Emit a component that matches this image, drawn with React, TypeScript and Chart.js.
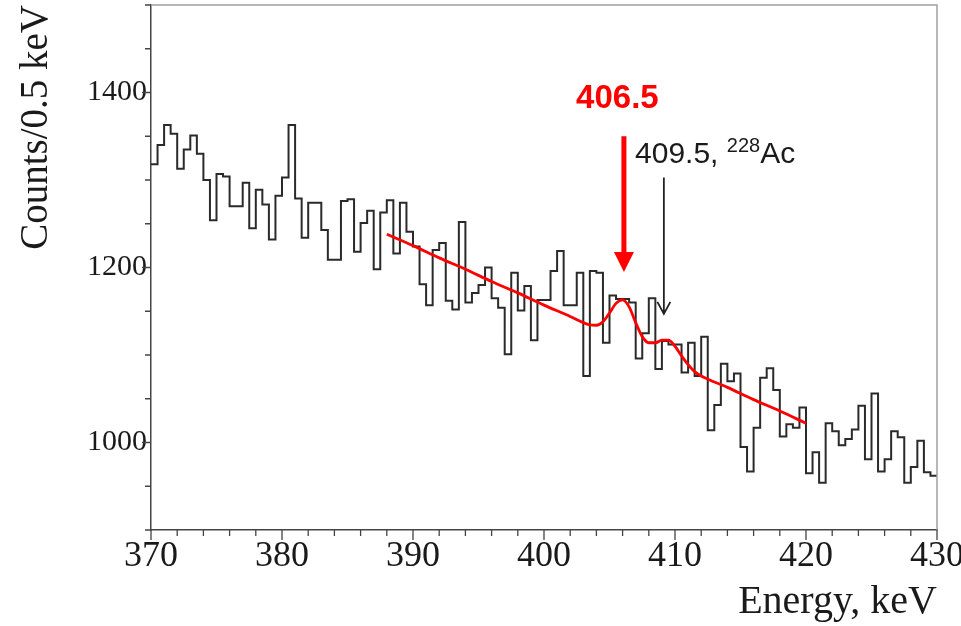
import { useEffect, useRef } from 'react';
import { Chart, registerables } from 'chart.js';

Chart.register(...registerables);

// ---- data ----
const binStart = 370; // keV, left edge of first bin
const binWidth = 0.5; // keV per bin
const counts: number[] = [
  1318, 1340, 1363, 1353, 1313, 1335, 1351, 1330, 1300, 1254,
  1307, 1304, 1270, 1270, 1297, 1245, 1289, 1272, 1232, 1282,
  1303, 1363, 1279, 1234, 1274, 1274, 1243, 1209, 1209, 1276,
  1278, 1218, 1251, 1265, 1198, 1263, 1277, 1216, 1274, 1241,
  1224, 1181, 1157, 1220, 1228, 1162, 1152, 1252, 1160, 1171,
  1180, 1200, 1165, 1154, 1101, 1194, 1151, 1179, 1117, 1163,
  1163, 1196, 1219, 1157, 1157, 1194, 1076, 1196, 1194, 1114,
  1168, 1164, 1164, 1160, 1096, 1125, 1165, 1084, 1116, 1112,
  1112, 1080, 1114, 1076, 1121, 1014, 1043, 1090, 1070, 1079,
  995, 967, 1017, 1074, 1085, 1060, 1007, 1021, 1017, 1040,
  965, 989, 954, 1022, 1013, 997, 1004, 1015, 1042, 981,
  1056, 967, 981, 1013, 1006, 954, 972, 1002, 966, 962,
];

const fitEnergy: number[] = [
  388, 390, 392, 394, 396, 398, 400, 402, 403, 403.5, 404, 404.5, 405, 405.5,
  406, 406.5, 407, 407.5, 408, 408.5, 409, 409.5, 410, 410.5, 411, 411.5, 412,
  414, 416, 418, 420,
];
const fitCounts: number[] = [
  1238, 1225, 1211, 1198, 1184, 1171, 1157, 1144, 1137, 1134.5, 1134, 1138, 1148, 1159,
  1163, 1155, 1137, 1121, 1114, 1114, 1117, 1117, 1110, 1099, 1089, 1081, 1076,
  1063, 1049, 1036, 1022,
];

const xTickLabels = [370, 380, 390, 400, 410, 420, 430];
const yTickLabels = [1000, 1200, 1400];
const xTitle = 'Energy, keV';
const yTitle = 'Counts/0.5 keV';
const peakText = '406.5';
const lineText = '409.5, ';
const lineMass = '228';
const lineElement = 'Ac';

// annotation anchors in data coordinates (keV, counts)
const peakArrow = { e: 406.1, from: 1350, to: 1195 };
const lineArrow = { e: 409.15, from: 1303, to: 1147 };
const peakTextAt = { e: 402.45, c: 1382.5 };
const lineTextAt = { e: 406.95, c: 1320 };

export default function App() {
  const ref = useRef<HTMLCanvasElement>(null);

  useEffect(() => {
    const canvas = ref.current;
    if (!canvas) return;

    const histPoints = counts.map((c, i) => ({ x: binStart + i * binWidth, y: c }));
    histPoints.push({ x: binStart + counts.length * binWidth, y: counts[counts.length - 1] });
    const fitPoints = fitEnergy.map((e, i) => ({ x: e, y: fitCounts[i] }));

    const overlay = {
      id: 'overlay',
      afterDraw(chart: any) {
        const { ctx, chartArea: a, scales } = chart;
        const xs = scales.x;
        const ys = scales.y;
        ctx.save();
        // top / right frame
        ctx.strokeStyle = '#a0a0a0';
        ctx.lineWidth = 1.5;
        ctx.beginPath();
        ctx.moveTo(a.left, a.top);
        ctx.lineTo(a.right, a.top);
        ctx.lineTo(a.right, a.bottom);
        ctx.stroke();
        // tick marks
        ctx.strokeStyle = '#444';
        ctx.lineWidth = 1.3;
        ctx.beginPath();
        xs.ticks.forEach((t: any) => {
          const px = xs.getPixelForValue(t.value);
          const len = xTickLabels.includes(t.value) ? 10 : 6;
          ctx.moveTo(px, a.bottom);
          ctx.lineTo(px, a.bottom + len);
        });
        ys.ticks.forEach((t: any) => {
          const py = ys.getPixelForValue(t.value);
          const len = yTickLabels.includes(t.value) ? 9 : 6;
          ctx.moveTo(a.left, py);
          ctx.lineTo(a.left - len, py);
        });
        ctx.stroke();

        // red arrow
        const rx = xs.getPixelForValue(peakArrow.e);
        const ry0 = ys.getPixelForValue(peakArrow.from);
        const ry1 = ys.getPixelForValue(peakArrow.to);
        ctx.strokeStyle = '#ff0000';
        ctx.fillStyle = '#ff0000';
        ctx.lineWidth = 5;
        ctx.beginPath();
        ctx.moveTo(rx, ry0);
        ctx.lineTo(rx, ry1 - 16);
        ctx.stroke();
        ctx.beginPath();
        ctx.moveTo(rx - 10, ry1 - 20);
        ctx.lineTo(rx + 10, ry1 - 20);
        ctx.lineTo(rx, ry1);
        ctx.closePath();
        ctx.fill();

        // black arrow
        const bx = xs.getPixelForValue(lineArrow.e);
        const by0 = ys.getPixelForValue(lineArrow.from);
        const by1 = ys.getPixelForValue(lineArrow.to);
        ctx.strokeStyle = '#222';
        ctx.lineWidth = 1.8;
        ctx.beginPath();
        ctx.moveTo(bx, by0);
        ctx.lineTo(bx, by1);
        ctx.moveTo(bx - 6.5, by1 - 12);
        ctx.lineTo(bx, by1);
        ctx.lineTo(bx + 6.5, by1 - 12);
        ctx.stroke();

        // texts
        ctx.textBaseline = 'alphabetic';
        ctx.textAlign = 'left';
        ctx.fillStyle = '#ff0000';
        ctx.font = 'bold 33px "Liberation Sans", Arial, sans-serif';
        ctx.fillText(peakText, xs.getPixelForValue(peakTextAt.e), ys.getPixelForValue(peakTextAt.c));

        ctx.fillStyle = '#1a1a1a';
        let tx = xs.getPixelForValue(lineTextAt.e);
        const ty = ys.getPixelForValue(lineTextAt.c);
        ctx.font = '30px "Liberation Sans", Arial, sans-serif';
        ctx.fillText(lineText, tx, ty);
        tx += ctx.measureText(lineText).width;
        ctx.font = '20px "Liberation Sans", Arial, sans-serif';
        ctx.fillText(lineMass, tx, ty - 11);
        tx += ctx.measureText(lineMass).width;
        ctx.font = '30px "Liberation Sans", Arial, sans-serif';
        ctx.fillText(lineElement, tx, ty);
        ctx.restore();
      },
    };

    const chart = new Chart(canvas, {
      type: 'line',
      data: {
        datasets: [
          {
            label: 'fit',
            data: fitPoints,
            borderColor: '#ff0000',
            borderWidth: 2.8,
            pointRadius: 0,
            fill: false,
            cubicInterpolationMode: 'monotone',
          },
          {
            label: 'data',
            data: histPoints,
            borderColor: '#2a2a2a',
            borderWidth: 2,
            pointRadius: 0,
            fill: false,
            stepped: 'before',
          },
        ],
      },
      options: {
        animation: false,
        responsive: true,
        maintainAspectRatio: false,
        layout: { padding: { top: 5, right: 24, left: 0, bottom: 0 } },
        plugins: {
          legend: { display: false },
          tooltip: { enabled: false },
        },
        scales: {
          x: {
            type: 'linear',
            min: 370,
            max: 430,
            ticks: {
              stepSize: 2,
              autoSkip: false,
              maxRotation: 0,
              padding: 5,
              color: '#1a1a1a',
              font: { family: '"Liberation Serif", serif', size: 36 },
              callback: (v: any) => (xTickLabels.includes(Number(v)) ? String(v) : ''),
            },
            grid: { display: true, drawOnChartArea: false, drawTicks: false },
            border: { display: true, color: '#444', width: 1.5 },
            title: {
              display: true,
              text: xTitle,
              align: 'end',
              color: '#1a1a1a',
              font: { family: '"Liberation Serif", serif', size: 40 },
              padding: { top: 0, bottom: 0 },
            },
            afterFit: (s: any) => {
              s.height = 96;
              s.paddingLeft = 0;
              s.paddingRight = 0;
            },
          },
          y: {
            type: 'linear',
            min: 900,
            max: 1500,
            ticks: {
              stepSize: 50,
              autoSkip: false,
              padding: 4,
              color: '#1a1a1a',
              font: { family: '"Liberation Serif", serif', size: 30 },
              callback: (v: any) => (yTickLabels.includes(Number(v)) ? String(v) : ''),
            },
            grid: { display: true, drawOnChartArea: false, drawTicks: false },
            border: { display: true, color: '#444', width: 1.5 },
            title: {
              display: true,
              text: yTitle,
              align: 'end',
              color: '#1a1a1a',
              font: { family: '"Liberation Serif", serif', size: 39 },
              padding: { top: 13, bottom: 0 },
            },
            afterFit: (s: any) => {
              s.width = 151;
              s.paddingTop = 0;
              s.paddingBottom = 0;
            },
          },
        },
      },
      plugins: [overlay],
    });

    return () => chart.destroy();
  }, []);

  return (
    <div style={{ position: 'fixed', left: 0, top: 0, width: 961, height: 626, background: '#fff' }}>
      <canvas ref={ref} />
    </div>
  );
}
